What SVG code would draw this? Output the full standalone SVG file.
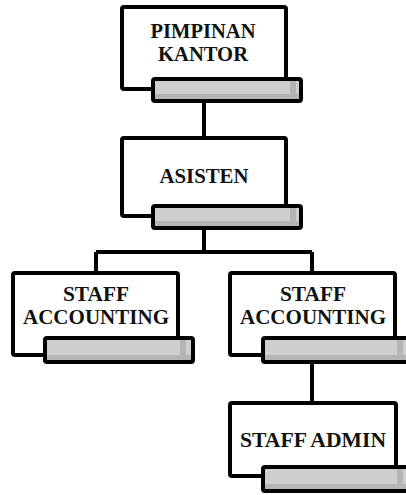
<svg xmlns="http://www.w3.org/2000/svg" width="406" height="495" viewBox="0 0 406 495">
<defs>
<style>
.box{fill:#fff;stroke:#000;stroke-width:4;stroke-linejoin:round}
.bar{fill:#cfcfcf;stroke:#000;stroke-width:4;stroke-linejoin:round}
.sh{fill:#b5b5b5}
.ln{fill:none;stroke:#000;stroke-width:4}
text{font-family:"Liberation Serif","Times New Roman",serif;font-weight:bold;font-size:20px;text-anchor:middle;fill:#111}
</style>
</defs>
<rect width="406" height="495" fill="#fff"/>
<g id="connectors">
<path class="ln" d="M204 100V138"/>
<path class="ln" d="M204 228V252M96 252H312M96 252V273M312 252V273"/>
<path class="ln" d="M312 362V403"/>
</g>
<g id="pimpinan">
<rect class="box" x="122" y="7" width="164" height="82" rx="2"/>
<text x="203" y="38" textLength="105" lengthAdjust="spacingAndGlyphs">PIMPINAN</text>
<text x="203" y="61" textLength="90" lengthAdjust="spacingAndGlyphs">KANTOR</text>
<rect class="bar" x="153" y="79" width="148" height="22" rx="2"/>
<rect class="sh" x="155" y="94" width="144" height="5"/>
<rect class="sh" x="290" y="81" width="6" height="15"/>
</g>
<g id="asisten">
<rect class="box" x="122" y="138" width="164" height="78" rx="2"/>
<text x="204" y="183" textLength="89" lengthAdjust="spacingAndGlyphs">ASISTEN</text>
<rect class="bar" x="153" y="206" width="148" height="22" rx="2"/>
<rect class="sh" x="155" y="221" width="144" height="5"/>
<rect class="sh" x="290" y="208" width="6" height="15"/>
</g>
<g id="staff-acc-1">
<rect class="box" x="13" y="273" width="165" height="82" rx="2"/>
<text x="96" y="301" textLength="66" lengthAdjust="spacingAndGlyphs">STAFF</text>
<text x="96" y="324" textLength="146" lengthAdjust="spacingAndGlyphs">ACCOUNTING</text>
<rect class="bar" x="45" y="338" width="148" height="24" rx="2"/>
<rect class="sh" x="47" y="355" width="144" height="5"/>
<rect class="sh" x="180" y="340" width="6" height="17"/>
</g>
<g id="staff-acc-2">
<rect class="box" x="230" y="273" width="165" height="82" rx="2"/>
<text x="313" y="301" textLength="66" lengthAdjust="spacingAndGlyphs">STAFF</text>
<text x="313" y="324" textLength="146" lengthAdjust="spacingAndGlyphs">ACCOUNTING</text>
<rect class="bar" x="263" y="338" width="150" height="24" rx="2"/>
<rect class="sh" x="265" y="355" width="141" height="5"/>
<rect class="sh" x="397" y="340" width="6" height="17"/>
</g>
<g id="staff-admin">
<rect class="box" x="230" y="403" width="166" height="73" rx="2"/>
<text x="313" y="447" textLength="146" lengthAdjust="spacingAndGlyphs">STAFF ADMIN</text>
<rect class="bar" x="263" y="467" width="150" height="24" rx="2"/>
<rect class="sh" x="265" y="484" width="141" height="5"/>
<rect class="sh" x="397" y="469" width="6" height="17"/>
</g>
</svg>
